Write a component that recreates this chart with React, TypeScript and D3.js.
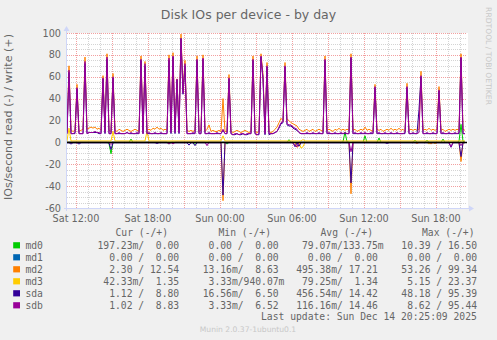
import React from "react";
import * as d3 from "d3";

const WIDTH = 497;
const HEIGHT = 340;
const PLOT = { left: 67, right: 467, top: 33, bottom: 208 };

const START = new Date(2025, 11, 13, 11, 15);
const END = new Date(2025, 11, 14, 20, 35);
const STEP_MINUTES = 10;

const Y_DOMAIN: [number, number] = [-60, 100];
const Y_TICKS = [100, 80, 60, 40, 20, 0, -20, -40, -60];

const TITLE = "Disk IOs per device - by day";
const Y_LABEL = "IOs/second read (-) / write (+)";
const WATERMARK = "Munin 2.0.37-1ubuntu0.1";
const RRD_TAG = "RRDTOOL / TOBI OETIKER";
const LAST_UPDATE = "Last update: Sun Dec 14 20:25:09 2025";

const FIELDS = ["md0", "md1", "md2", "md3", "sda", "sdb"];
const COLORS = ["#00cc00", "#0066b3", "#ff8000", "#ffcc00", "#330099", "#990099"];
const LEGEND_HEADERS = ["Cur (-/+)", "Min (-/+)", "Avg (-/+)", "Max (-/+)"];
const LEGEND_CUR = ["197.23m/  0.00", "  0.00 /  0.00", "  2.30 / 12.54", " 42.33m/  1.35", "  1.12 /  8.80", "  1.02 /  8.83"];
const LEGEND_MIN = ["  0.00 /  0.00", "  0.00 /  0.00", " 13.16m/  8.63", "  3.33m/940.07m", " 16.56m/  6.50", "  3.33m/  6.52"];
const LEGEND_AVG = [" 79.07m/133.75m", "  0.00 /  0.00", "495.38m/ 17.21", " 79.25m/  1.34", "456.54m/ 14.42", "116.16m/ 14.46"];
const LEGEND_MAX = [" 10.39 / 16.50", "  0.00 /  0.00", " 53.26 / 99.34", "  5.15 / 23.37", " 48.18 / 95.39", "  8.62 / 95.44"];

// ---- series values, one every 10 minutes from Sat 11:15 ----
const md0Write = [
  0,0,0,0,0,0,0,0,0,0,0,0,0,0,0,0,0,0,0,0,
  0,0,0,0,0,0,0,0,0,0,0,0,3,0,0,0,0,0,0,0,
  0,0,0,0,0,0,0,0,0,0,0,0,0,0,0,0,0,0,0,0,
  0,0,0,0,0,0,0,0,0,0,0,0,0,0,0,0,0,0,0,0,
  0,0,0,0,0,0,0,0,0,0,0,0,0,0,0,0,0,0,0,0,
  0,0,0,0,0,0,0,0,0,0,0,2.5,0,0,0,0,0,0,0,0,
  0,0,0,0,0,0,0,0,0,0,0,0,0,0,0,0,0,0,0.5,9.5,
  0.5,0,0,0,0,0,0,0,0,6,0,0,0,0,0,0,4,0,0,0,
  0,0,0,0,0,0,0,0,0,0,0,0,0,0,2,0,0,0,0,0,
  2,0,0,0,0,0,0,0,3,0,0,0,0,0,0,0,1,16.5,1,0,
];
const md0Read = [
  0,0,0,0,0,0,0,0,0,0,0,0,0,0,0,0,0,0,0,0,
  0,-1,-10.4,0,0,0,0,0,0,0,0,0,0,0,0,0,0,0,0,0,
  0,0,0,0,0,0,0,0,0,0,0,-1.5,0,0,0,0,0,0,0,0,
  0,0,0,0,-2,0,0,0,0,0,0,0,0,0,0,0,0,0,0,0,
  -1.5,0,0,0,0,0,0,0,0,0,0,0,0,0,0,0,0,0,0,0,
  0,0,0,0,0,0,0,0,0,0,0,0,0,0,0,0,0,0,0,0,
  0,0,0,0,0,0,0,0,0,0,0,0,0,0,0,0,0,0,0,0,
  0,0,0,0,0,0,0,0,0,0,0,0,0,0,0,0,0,0,0,0,
  0,0,0,0,0,0,0,0,0,0,0,0,0,0,0,0,0,0,0,0,
  0,0,0,0,0,0,0,0,0,0,0,0,0,0,0,0,0,0,0,0,
];
const md1Write = [
  0,0,0,0,0,0,0,0,0,0,0,0,0,0,0,0,0,0,0,0,
  0,0,0,0,0,0,0,0,0,0,0,0,0,0,0,0,0,0,0,0,
  0,0,0,0,0,0,0,0,0,0,0,0,0,0,0,0,0,0,0,0,
  0,0,0,0,0,0,0,0,0,0,0,0,0,0,0,0,0,0,0,0,
  0,0,0,0,0,0,0,0,0,0,0,0,0,0,0,0,0,0,0,0,
  0,0,0,0,0,0,0,0,0,0,0,0,0,0,0,0,0,0,0,0,
  0,0,0,0,0,0,0,0,0,0,0,0,0,0,0,0,0,0,0,0,
  0,0,0,0,0,0,0,0,0,0,0,0,0,0,0,0,0,0,0,0,
  0,0,0,0,0,0,0,0,0,0,0,0,0,0,0,0,0,0,0,0,
  0,0,0,0,0,0,0,0,0,0,0,0,0,0,0,0,0,0,0,0,
];
const md1Read = [
  0,0,0,0,0,0,0,0,0,0,0,0,0,0,0,0,0,0,0,0,
  0,0,0,0,0,0,0,0,0,0,0,0,0,0,0,0,0,0,0,0,
  0,0,0,0,0,0,0,0,0,0,0,0,0,0,0,0,0,0,0,0,
  0,0,0,0,0,0,0,0,0,0,0,0,0,0,0,0,0,0,0,0,
  0,0,0,0,0,0,0,0,0,0,0,0,0,0,0,0,0,0,0,0,
  0,0,0,0,0,0,0,0,0,0,0,0,0,0,0,0,0,0,0,0,
  0,0,0,0,0,0,0,0,0,0,0,0,0,0,0,0,0,0,0,0,
  0,0,0,0,0,0,0,0,0,0,0,0,0,0,0,0,0,0,0,0,
  0,0,0,0,0,0,0,0,0,0,0,0,0,0,0,0,0,0,0,0,
  0,0,0,0,0,0,0,0,0,0,0,0,0,0,0,0,0,0,0,0,
];
const md2Write = [
  10,70,11,10,11,53,10,11,12,78,12,13,14,13,14,12,13,11,61,11,
  81,11,10,63,11,10,12,11,10,11,12,11,10,11,12,11,10,79,11,74,
  11,12,11,13,12,14,12,13,11,12,11,80,12,82,12,58,12,99,48,75,
  11,10,11,10,11,79,10,11,80,10,12,16,10,11,10,10,11,10,40,10,
  10,62,10,9,10,11,10,9,10,11,10,9,10,79,10,9,10,81,62,10,
  73,10,9,10,12,14,18,22,20,73,21,20,18,17,16,15,12,11,10,11,
  12,10,11,12,10,11,12,11,10,79,11,12,11,10,12,11,13,11,12,11,
  12,11,81,11,12,10,11,12,11,14,11,12,11,10,53,12,11,12,10,11,
  12,11,13,11,12,11,13,11,12,10,54,11,12,11,12,11,12,65,11,12,
  11,13,11,12,11,12,51,11,12,10,11,12,11,12,11,12,11,81,12,11,
];
const md2Read = [
  0,0,0,0,0,0,0,0,0,0,0,0,0,0,0,0,0,0,0,0,
  0,0,0,0,0,0,0,0,0,0,0,0,0,0,0,0,0,0,0,0,
  0,0,0,0,0,0,0,0,0,0,0,0,0,0,0,0,0,0,0,0,
  0,0,0,0,0,0,0,0,0,0,0,0,0,0,0,0,0,0,-53.3,0,
  0,0,0,0,0,0,0,0,0,0,0,0,0,0,0,0,0,0,0,0,
  0,0,0,0,0,0,0,0,0,0,0,0,0,0,0,-4.6,-3,0,0,0,
  0,0,0,0,0,0,0,0,0,0,0,0,0,0,0,0,0,0,0,0,
  0,0,-47,0,0,0,0,0,0,0,0,0,0,0,0,0,0,0,0,0,
  0,0,0,0,0,0,0,0,0,0,0,0,0,0,0,-1,0,0,0,0,
  0,0,-1.5,0,-1,0,0,0,0,0,0,0,0,0,0,0,0,-17.5,0,0,
];
const md3Write = [
  1.3,13,1.3,1.3,1.3,1.3,1.3,1.3,1.3,1.3,1.3,1.3,1.3,1.3,1.3,1.3,1.3,1.3,1.3,1.3,
  1.3,1.3,1.3,10,1.3,1.3,1.3,1.3,1.3,1.3,1.3,1.3,1.3,1.3,1.3,1.3,1.3,1.3,1.3,1.3,
  10,1.3,1.3,1.3,1.3,1.3,1.3,1.3,1.3,1.3,1.3,1.3,1.3,1.3,1.3,1.3,1.3,1.3,1.3,1.3,
  1.3,1.3,1.3,1.3,1.3,1.3,1.3,1.3,1.3,1.3,1.3,1.3,1.3,1.3,1.3,1.3,1.3,1.3,6,1.3,
  1.3,1.3,1.3,1.3,1.3,1.3,1.3,1.3,1.3,1.3,1.3,1.3,1.3,1.3,1.3,1.3,1.3,1.3,1.3,1.3,
  1.3,1.3,1.3,1.3,1.3,1.3,1.3,1.3,1.3,1.3,1.3,1.3,1.3,1.3,1.3,1.3,1.3,1.3,2.5,1.3,
  1.3,1.3,1.3,1.3,1.3,1.3,1.3,1.3,1.3,1.3,1.3,1.3,1.3,1.3,1.3,1.3,1.3,1.3,1.3,1.3,
  1.3,1.3,1.3,1.3,1.3,1.3,1.3,1.3,1.3,1.3,1.3,1.3,1.3,1.3,1.3,1.3,1.3,1.3,1.3,1.3,
  1.3,1.3,1.3,1.3,1.3,1.3,1.3,1.3,1.3,1.3,1.3,1.3,1.3,1.3,1.3,1.3,1.3,1.3,1.3,1.3,
  1.3,1.3,1.3,1.3,1.3,1.3,1.3,1.3,1.3,1.3,1.3,1.3,1.3,1.3,1.3,1.3,1.3,1.3,1.3,1.3,
];
const md3Read = [
  0,0,0,0,0,0,0,0,0,0,0,0,0,0,0,0,0,0,0,0,
  0,0,0,0,0,0,0,0,0,0,0,0,0,0,0,0,0,0,0,0,
  0,0,0,0,0,0,0,0,0,0,0,0,0,0,0,0,0,0,0,0,
  0,0,0,0,0,0,0,0,0,0,0,0,0,0,0,0,0,0,0,0,
  0,0,0,0,0,0,0,0,0,0,0,0,0,0,0,0,0,0,0,0,
  0,0,0,0,0,0,0,0,0,0,0,0,0,0,0,0,0,-5.2,-4,0,
  0,0,0,0,0,0,0,0,0,0,0,0,0,0,0,0,0,0,0,0,
  0,0,0,0,0,0,0,0,0,0,0,0,0,0,0,0,0,0,0,0,
  0,0,0,0,0,0,0,0,0,0,0,0,0,0,0,0,0,0,0,0,
  0,-1.5,0,0,-1,0,0,0,0,0,0,0,0,0,0,0,0,0,0,0,
];
const sdaWrite = [
  8,64,8,8,8,49,8,8,8,72,8,9,9,9,9,9,8,8,58,8,
  76,8,8,59,8,8,8,8,8,8,9,8,8,8,8,8,8,75,8,70,
  8,8,8,8,8,8,8,8,8,8,8,75,8,78,8,57,8,95,44,70,
  8,8,8,8,8,75,8,8,76,8,8,8,8,8,8,8,8,8,11,8,
  8,58,8,7,7,8,7,7,8,7,7,8,8,75,8,7,7,78,58,7,
  69,7,8,8,9,10,13,17,18,69,16,15,15,13,12,11,9,8,8,8,
  8,8,8,8,8,8,8,8,8,75,8,8,8,8,8,8,8,8,8,8,
  8,8,77,8,8,8,8,8,8,8,8,8,8,8,50,8,8,8,8,8,
  8,8,8,8,8,8,8,8,8,8,50,8,8,8,8,8,30,60,8,8,
  8,8,8,8,8,8,47,8,8,8,8,8,8,8,8,8,8,77,8,8,
];
const sdaRead = [
  -0.4,-0.4,-1.5,-0.4,-0.4,-0.4,-1.5,-0.4,-0.4,-0.4,-0.4,-0.4,-0.4,-0.4,-0.4,-0.4,-0.4,-0.4,-0.4,-0.4,
  -0.4,-0.4,-6.5,-0.4,-0.4,-0.4,-0.4,-0.4,-0.4,-0.4,-0.4,-0.4,-0.4,-0.4,-0.4,-0.4,-0.4,-0.4,-0.4,-0.4,
  -0.4,-0.4,-0.4,-0.4,-0.4,-1,-0.4,-0.4,-0.4,-0.4,-0.4,-0.4,-0.4,-0.4,-0.4,-0.4,-0.4,-0.4,-0.4,-0.4,
  -0.4,-2.5,-0.4,-0.4,-3,-0.4,-0.4,-0.4,-0.4,-0.4,-0.4,-0.4,-0.4,-0.4,-0.4,-0.4,-0.4,-0.4,-48.2,-0.4,
  -0.4,-0.4,-0.4,-0.4,-0.4,-0.4,-0.4,-0.4,-0.4,-0.4,-0.4,-0.4,-0.4,-0.4,-0.4,-0.4,-0.4,-0.4,-0.4,-0.4,
  -0.4,-0.4,-0.4,-0.4,-0.4,-0.4,-0.4,-0.4,-0.4,-0.4,-0.4,-0.4,-0.4,-0.4,-4,-0.4,-3.5,-0.4,-0.4,-0.4,
  -0.4,-0.4,-0.4,-0.4,-0.4,-0.4,-0.4,-0.4,-0.4,-0.4,-0.4,-0.4,-0.4,-0.4,-0.4,-0.4,-0.4,-0.4,-0.4,-0.4,
  -0.4,-0.4,-37,-0.4,-0.4,-0.4,-0.4,-0.4,-0.4,-0.4,-0.4,-0.4,-0.4,-0.4,-0.4,-0.4,-0.4,-0.4,-0.4,-0.4,
  -1,-0.4,-0.4,-0.4,-0.4,-0.4,-0.4,-0.4,-0.4,-0.4,-0.4,-0.4,-0.4,-0.4,-0.4,-0.4,-0.4,-0.4,-0.4,-0.4,
  -0.4,-0.4,-0.4,-0.4,-0.4,-0.4,-0.4,-0.4,-0.4,-0.4,-0.4,-0.4,-4.5,-0.4,-0.4,-0.4,-0.4,-13,-0.4,-0.4,
];
const sdbWrite = [
  8,66,8,8,9,50,8,8,8,74,8,9,9,9,10,9,9,8,59,9,
  78,8,8,60,8,8,9,8,8,8,9,8,9,8,8,9,8,76,8,72,
  8,9,8,8,9,8,8,9,8,8,8,77,9,79,9,58,9,95,45,72,
  8,8,8,9,8,76,8,8,77,8,8,9,8,8,8,9,8,8,12,8,
  8,59,8,7,8,8,7,8,8,7,8,8,8,76,8,7,8,79,59,8,
  70,8,8,8,9,10,14,18,19,70,17,16,16,14,13,12,9,8,8,8,
  9,8,8,9,8,8,9,8,8,76,8,9,8,8,9,8,8,9,8,9,
  8,8,78,8,9,8,8,9,8,9,8,8,9,8,51,8,9,8,8,9,
  8,8,9,8,8,9,8,8,8,9,51,8,8,9,8,8,9,61,8,8,
  9,8,8,9,8,8,48,8,9,8,8,9,8,8,9,8,9,78,8,8,
];
const sdbRead = [
  0,0,0,0,0,0,0,0,0,0,0,0,0,0,0,0,0,0,0,0,
  0,0,-2,0,0,0,0,0,0,0,0,0,0,0,0,0,0,0,0,0,
  0,0,0,0,0,0,0,0,0,0,0,-1.5,0,-1.5,0,0,0,0,0,0,
  0,0,0,0,0,0,0,0,0,0,-3,0,0,0,0,0,0,0,0,0,
  0,0,0,0,0,0,0,0,0,0,0,0,0,0,0,0,0,0,0,0,
  0,0,0,0,0,0,0,0,0,0,0,0,0,0,-3,-4,0,0,0,0,
  0,0,0,0,0,0,0,0,0,0,0,0,0,0,0,0,0,0,0,0,
  0,0,-8.6,0,0,0,0,0,0,0,0,0,0,0,0,0,0,0,0,0,
  0,0,0,0,0,0,0,0,0,0,0,0,0,0,0,0,0,0,0,0,
  0,0,0,0,0,0,0,0,0,0,0,0,-4,0,0,0,0,-3,0,0,
];

const READS = [md0Read, md1Read, md2Read, md3Read, sdaRead, sdbRead];
const WRITES = [md0Write, md1Write, md2Write, md3Write, sdaWrite, sdbWrite];

if (typeof document !== "undefined") {
  document.body.style.margin = "0";
}

const SANS = "'DejaVu Sans', 'Liberation Sans', sans-serif";
const MONO = "'DejaVu Sans Mono', 'Liberation Mono', monospace";
const FONT_COLOR = "#666666";
const AXIS_COLOR = "#cfd6f8";

export default function App() {
  const x = d3.scaleTime().domain([START, END]).range([PLOT.left, PLOT.right]);
  const y = d3.scaleLinear().domain(Y_DOMAIN).range([PLOT.bottom, PLOT.top]);
  const timeAt = (i: number) => new Date(START.getTime() + i * STEP_MINUTES * 60000);
  const line = d3
    .line<number>()
    .x((_, i) => x(timeAt(i)))
    .y((v) => y(v));

  const hourTicks = d3.timeHour.range(START, END);
  const majorTicks = d3.timeHour.every(3)!.range(START, END);
  const labelTicks = d3.timeHour.every(6)!.range(START, END);
  const fmt = d3.timeFormat("%a %H:%M");
  const majorSet = new Set(majorTicks.map((d) => +d));
  const minorY = d3.range(Y_DOMAIN[0], Y_DOMAIN[1] + 0.1, 5).filter((v) => v % 20 !== 0);

  const colX = [97.5, 196.9, 296.2, 395.5];
  const headerX = [115.5, 218.5, 320.5, 422];
  const legendCols = [LEGEND_CUR, LEGEND_MIN, LEGEND_AVG, LEGEND_MAX];
  const rowY = (k: number) => 249 + k * 12;

  const order: { data: number[]; color: string }[] = [];
  FIELDS.forEach((_, k) => {
    order.push({ data: READS[k], color: COLORS[k] });
    order.push({ data: WRITES[k], color: COLORS[k] });
  });

  return (
    <svg
      width={WIDTH}
      height={HEIGHT}
      style={{ position: "absolute", left: 0, top: 0, display: "block" }}
      xmlns="http://www.w3.org/2000/svg"
    >
      <defs>
        <clipPath id="plotclip">
          <rect x={PLOT.left} y={PLOT.top - 2} width={PLOT.right - PLOT.left + 1} height={PLOT.bottom - PLOT.top + 3} />
        </clipPath>
      </defs>
      <rect x={0} y={0} width={WIDTH} height={HEIGHT} fill="#f0f0f0" />
      <rect x={PLOT.left} y={PLOT.top} width={PLOT.right - PLOT.left + 1} height={PLOT.bottom - PLOT.top} fill="#ffffff" />

      {/* minor grid */}
      <g stroke="#d4d4d4" strokeWidth={1} strokeDasharray="1,1" shapeRendering="crispEdges">
        {hourTicks
          .filter((d) => !majorSet.has(+d))
          .map((d, i) => (
            <line key={"vx" + i} x1={Math.round(x(d)) + 0.5} x2={Math.round(x(d)) + 0.5} y1={PLOT.top} y2={PLOT.bottom} />
          ))}
        {minorY.map((v, i) => (
          <line key={"hy" + i} x1={PLOT.left} x2={PLOT.right} y1={Math.round(y(v)) + 0.5} y2={Math.round(y(v)) + 0.5} />
        ))}
      </g>
      {/* major grid */}
      <g stroke="#f2a0a0" strokeWidth={1} strokeDasharray="1,1" shapeRendering="crispEdges">
        {majorTicks.map((d, i) => (
          <line key={"mx" + i} x1={Math.round(x(d)) + 0.5} x2={Math.round(x(d)) + 0.5} y1={PLOT.top} y2={PLOT.bottom} />
        ))}
        {Y_TICKS.map((v, i) => (
          <line key={"my" + i} x1={PLOT.left} x2={PLOT.right} y1={Math.round(y(v)) + 0.5} y2={Math.round(y(v)) + 0.5} />
        ))}
      </g>

      {/* axes */}
      <g stroke={AXIS_COLOR} strokeWidth={1} shapeRendering="crispEdges">
        <line x1={PLOT.left - 0.5} x2={PLOT.left - 0.5} y1={PLOT.bottom + 3} y2={PLOT.top - 3} />
        <line x1={PLOT.left - 3} x2={PLOT.right + 3} y1={PLOT.bottom + 0.5} y2={PLOT.bottom + 0.5} />
      </g>
      <polygon
        points={`${PLOT.right + 2},${PLOT.bottom - 2.5} ${PLOT.right + 2},${PLOT.bottom + 3.5} ${PLOT.right + 7},${PLOT.bottom + 0.5}`}
        fill={AXIS_COLOR}
      />
      <polygon
        points={`${PLOT.left - 3.5},${PLOT.top - 2} ${PLOT.left + 2.5},${PLOT.top - 2} ${PLOT.left - 0.5},${PLOT.top - 7}`}
        fill={AXIS_COLOR}
      />

      {/* series */}
      <g clipPath="url(#plotclip)" fill="none" strokeWidth={1} strokeLinejoin="round">
        {order.map((s, i) => (
          <path key={"s" + i} d={line(s.data) || ""} stroke={s.color} />
        ))}
        <line x1={PLOT.left} x2={PLOT.right} y1={y(0)} y2={y(0)} stroke="#000000" strokeWidth={1.5} />
      </g>

      {/* y ticks */}
      <g fontFamily={SANS} fontSize={9.7} fill={FONT_COLOR} textAnchor="end">
        {Y_TICKS.map((v, i) => (
          <text key={"yt" + i} x={61} y={y(v) + 3.5}>
            {v}
          </text>
        ))}
      </g>
      {/* x ticks */}
      <g fontFamily={SANS} fontSize={9.7} fill={FONT_COLOR} textAnchor="middle">
        {labelTicks.map((d, i) => (
          <text key={"xt" + i} x={x(d)} y={221.5}>
            {fmt(d)}
          </text>
        ))}
      </g>

      {/* title & labels */}
      <text x={248.5} y={18.5} fontFamily={SANS} fontSize={12.5} fill={FONT_COLOR} textAnchor="middle">
        {TITLE}
      </text>
      <text
        transform="translate(12,117) rotate(-90)"
        fontFamily={SANS}
        fontSize={11.1}
        fill={FONT_COLOR}
        textAnchor="middle"
      >
        {Y_LABEL}
      </text>
      <text
        transform="translate(485.5,56) rotate(90)"
        fontFamily={SANS}
        fontSize={7.6}
        fill="#c8c8c8"
        textAnchor="middle"
      >
        {RRD_TAG}
      </text>

      {/* legend */}
      <g fontFamily={MONO} fontSize={9.7} fill={FONT_COLOR} style={{ whiteSpace: "pre" }}>
        {LEGEND_HEADERS.map((h, i) => (
          <text key={"h" + i} x={headerX[i]} y={236} xmlSpace="preserve">
            {h}
          </text>
        ))}
        {FIELDS.map((f, k) => (
          <g key={"row" + k}>
            <rect x={13.2} y={rowY(k) - 6.8} width={6.8} height={6.2} fill={COLORS[k]} />
            <text x={25.4} y={rowY(k)} xmlSpace="preserve">
              {f}
            </text>
            {legendCols.map((col, c) => (
              <text key={"c" + c} x={colX[c]} y={rowY(k)} xmlSpace="preserve">
                {col[k]}
              </text>
            ))}
          </g>
        ))}
        <text x={261} y={320} xmlSpace="preserve">
          {LAST_UPDATE}
        </text>
      </g>
      <text x={248} y={332} fontFamily={SANS} fontSize={7.6} fill="#c8c8c8" textAnchor="middle">
        {WATERMARK}
      </text>
    </svg>
  );
}
